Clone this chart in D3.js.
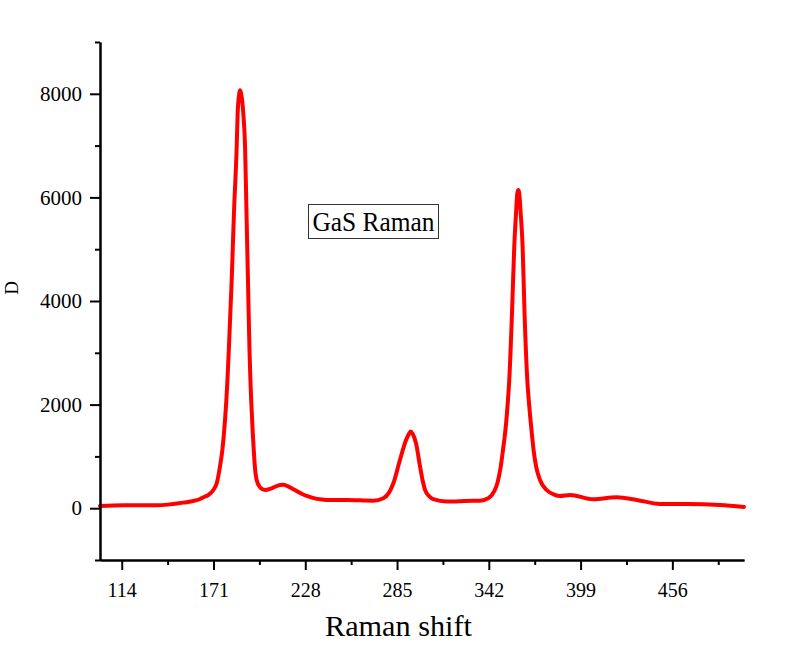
<!DOCTYPE html>
<html>
<head>
<meta charset="utf-8">
<script src="https://cdn.jsdelivr.net/npm/d3@7"></script>
<style>
  html, body { margin: 0; padding: 0; background: #fff; }
  svg { display: block; }
</style>
</head>
<body>
<svg id="chart" width="800" height="649"></svg>
<script>
// ---- data ----
const ramanShift = [100.5, 115, 135.7, 152.2, 160, 162.6, 165.7, 167.8, 170.9, 173.0, 175.0, 176.5, 177.5, 178.3, 179.0, 179.7, 180.6, 182.3, 183.7, 185.4, 186.0, 187.0, 187.5, 188.1, 189.5, 190.6, 191.5, 192.4, 193.3, 193.9, 194.4, 194.9, 195.4, 196.0, 196.7, 197.8, 199.9, 203.0, 207.1, 212.3, 214.5, 217, 220.6, 228.9, 241.3, 253.7, 270.2, 276.5, 280, 282.7, 286.8, 290.6, 292.5, 293.5, 294.6, 296.8, 299.3, 301, 302.4, 305, 307.5, 315.8, 332.4, 336.5, 341.7, 345.2, 347.3, 349.4, 350.8, 352.1, 353.1, 353.9, 354.7, 356.4, 357.8, 358.9, 359.7, 360.3, 360.9, 361.8, 363.0, 364.2, 365.9, 366.8, 367.7, 368.7, 369.8, 371.4, 373.8, 377.9, 383.1, 386.2, 392.4, 406.9, 421.4, 433.9, 448.3, 464.9, 485.6, 500.5];
const intensity  = [44, 58, 58, 108, 150, 178, 225, 255, 351, 481, 801, 1124, 1446, 1766, 2089, 2500, 3118, 4405, 5693, 6979, 7624, 8010, 8067, 8010, 7624, 6979, 5693, 4405, 3118, 2500, 2089, 1766, 1446, 1124, 801, 544, 403, 351, 384, 448, 452, 425, 366, 237, 160, 160, 146, 193, 300, 482, 931, 1316, 1440, 1480, 1440, 1252, 802, 520, 353, 230, 173, 127, 146, 145, 191, 319, 483, 801, 1124, 1446, 1766, 2089, 2475, 3763, 5048, 5693, 6079, 6143, 6079, 5693, 5048, 3763, 2475, 2089, 1766, 1446, 1124, 801, 544, 351, 255, 236, 255, 173, 212, 160, 83, 83, 64, 25];

const xMajorTicks = [114, 171, 228, 285, 342, 399, 456];
const xMinorTicks = [142.5, 199.5, 256.5, 313.5, 370.5, 427.5, 484.5];
const yMajorTicks = [0, 2000, 4000, 6000, 8000];
const yMinorTicks = [-1000, 1000, 3000, 5000, 7000, 9000];

const xTitle = "Raman shift";
const yTitle = "D";
const chartLabel = "GaS Raman";

// ---- layout ----
const svg = d3.select("#chart");
const plotLeft = 100, plotRight = 744, plotTop = 42, plotBottom = 560;

const x = d3.scaleLinear().domain([100.5, 500.5]).range([plotLeft, plotRight]);
const y = d3.scaleLinear().domain([-1000, 9000]).range([plotBottom, plotTop]);

const data = ramanShift.map((v, i) => ({ x: v, y: intensity[i] }));

// line
const line = d3.line().x(d => x(d.x)).y(d => y(d.y)).curve(d3.curveMonotoneX);
svg.append("path")
  .datum(data)
  .attr("d", line)
  .attr("fill", "none")
  .attr("stroke", "#ff0000")
  .attr("stroke-width", 4)
  .attr("stroke-linejoin", "round")
  .attr("stroke-linecap", "round");

// axes
function styleAxis(g) {
  g.selectAll("path.domain").attr("stroke", "#000").attr("stroke-width", 2);
  g.selectAll(".tick line").attr("stroke", "#000").attr("stroke-width", 2);
}

const gxMinor = svg.append("g").attr("transform", `translate(0,${plotBottom})`)
  .call(d3.axisBottom(x).tickValues(xMinorTicks).tickSize(5).tickSizeOuter(0).tickFormat(""));
styleAxis(gxMinor);

const gx = svg.append("g").attr("transform", `translate(0,${plotBottom})`)
  .call(d3.axisBottom(x).tickValues(xMajorTicks).tickSize(10).tickSizeOuter(0).tickPadding(8).tickFormat(d3.format("d")));
styleAxis(gx);
gx.selectAll(".tick text")
  .attr("font-family", "'Liberation Serif', serif")
  .attr("font-size", 20)
  .attr("fill", "#000")
  .attr("dy", null)
  .attr("y", 37);

const gyMinor = svg.append("g").attr("transform", `translate(${plotLeft},0)`)
  .call(d3.axisLeft(y).tickValues(yMinorTicks).tickSize(5).tickSizeOuter(0).tickFormat(""));
styleAxis(gyMinor);

const gy = svg.append("g").attr("transform", `translate(${plotLeft},0)`)
  .call(d3.axisLeft(y).tickValues(yMajorTicks).tickSize(10).tickSizeOuter(0).tickPadding(8).tickFormat(d3.format("d")));
styleAxis(gy);
gy.selectAll(".tick text")
  .attr("font-family", "'Liberation Serif', serif")
  .attr("font-size", 21)
  .attr("fill", "#000")
  .attr("x", -18);

// axis titles
svg.append("text")
  .attr("x", 398.5).attr("y", 636)
  .attr("text-anchor", "middle")
  .attr("font-family", "'Liberation Serif', serif")
  .attr("font-size", 29)
  .attr("textLength", 147)
  .attr("lengthAdjust", "spacingAndGlyphs")
  .attr("fill", "#000")
  .text(xTitle);

svg.append("text")
  .attr("transform", "translate(18,288) rotate(-90)")
  .attr("text-anchor", "middle")
  .attr("font-family", "'Liberation Serif', serif")
  .attr("font-size", 19)
  .attr("fill", "#000")
  .text(yTitle);

// label box
svg.append("rect")
  .attr("x", 308.5).attr("y", 204.5)
  .attr("width", 130).attr("height", 34)
  .attr("fill", "#fff")
  .attr("stroke", "#333")
  .attr("stroke-width", 1);
svg.append("text")
  .attr("x", 312.5).attr("y", 230.5)
  .attr("font-family", "'Liberation Serif', serif")
  .attr("font-size", 27)
  .attr("textLength", 122)
  .attr("lengthAdjust", "spacingAndGlyphs")
  .attr("fill", "#000")
  .text(chartLabel);
</script>
</body>
</html>
